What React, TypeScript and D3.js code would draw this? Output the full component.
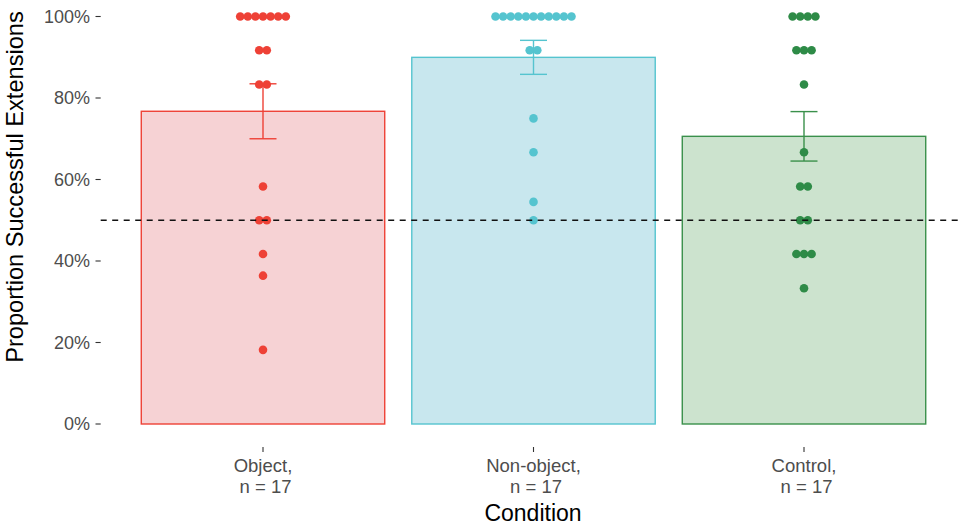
import React from "react";
import * as d3 from "d3";

// Conditions shown along the x axis
const conditions = ["Object", "Non-object", "Control"];
const sampleSizes = [17, 17, 17];

// Per-participant proportion of successful extensions, one array per condition
const objectScores = [1, 1, 1, 1, 1, 1, 1, 0.917, 0.917, 0.833, 0.833, 0.583, 0.5, 0.5, 0.417, 0.364, 0.182];
const nonObjectScores = [1, 1, 1, 1, 1, 1, 1, 1, 1, 1, 1, 0.917, 0.917, 0.75, 0.667, 0.545, 0.5];
const controlScores = [1, 1, 1, 1, 0.917, 0.917, 0.917, 0.833, 0.667, 0.583, 0.583, 0.5, 0.5, 0.417, 0.417, 0.417, 0.333];

const yTicks = [0, 0.2, 0.4, 0.6, 0.8, 1];
const chanceLevel = 0.5;

const pointColors = ["#EE4136", "#55C4CF", "#2E8B47"];
const barFills = ["#F6D2D4", "#C8E7EE", "#CCE3CE"];
const barStrokes = ["#EE4136", "#55C4CF", "#3A904B"];

const W = 960;
const H = 526;
const panelLeft = 100.7;
const panelRight = 966.3;
const panelBottom = 447;

const FONT = "'Liberation Sans', Arial, Helvetica, sans-serif";

export default function App() {
  const groups = [objectScores, nonObjectScores, controlScores];

  const x = d3
    .scaleBand<string>()
    .domain(conditions)
    .range([panelLeft, panelRight])
    .paddingInner(0.1)
    .paddingOuter(0.15);

  const y = d3.scaleLinear().domain([0, 1]).range([424, 16.5]);

  const stats = groups.map((vals) => {
    const m = d3.mean(vals) as number;
    const sd = d3.deviation(vals) as number;
    const se = sd / Math.sqrt(vals.length);
    return { mean: m, lo: m - se, hi: m + se };
  });

  const dotR = 4.3;
  const dotStep = 7.6;
  const whiskerHalf = 13.5;

  return (
    <svg
      width={W}
      height={H}
      style={{ position: "absolute", left: 0, top: 0, background: "#fff" }}
      fontFamily={FONT}
    >
      {/* bars */}
      {conditions.map((c, i) => (
        <rect
          key={`bar-${c}`}
          x={x(c)!}
          y={y(stats[i].mean)}
          width={x.bandwidth()}
          height={y(0) - y(stats[i].mean)}
          fill={barFills[i]}
          stroke={barStrokes[i]}
          strokeWidth={1.4}
        />
      ))}

      {/* standard-error bars */}
      {conditions.map((c, i) => {
        const cx = x(c)! + x.bandwidth() / 2;
        const s = stats[i];
        return (
          <g key={`err-${c}`} stroke={barStrokes[i]} strokeWidth={1.4}>
            <line x1={cx} x2={cx} y1={y(s.hi)} y2={y(s.lo)} />
            <line x1={cx - whiskerHalf} x2={cx + whiskerHalf} y1={y(s.hi)} y2={y(s.hi)} />
            <line x1={cx - whiskerHalf} x2={cx + whiskerHalf} y1={y(s.lo)} y2={y(s.lo)} />
          </g>
        );
      })}

      {/* centred dot stacks */}
      {conditions.map((c, i) => {
        const cx = x(c)! + x.bandwidth() / 2;
        const bins = d3.groups(groups[i], (v) => v);
        return (
          <g key={`dots-${c}`} fill={pointColors[i]}>
            {bins.flatMap(([v, arr]) =>
              arr.map((_, k) => (
                <circle
                  key={`${v}-${k}`}
                  cx={cx + (k - (arr.length - 1) / 2) * dotStep}
                  cy={y(v)}
                  r={dotR}
                />
              ))
            )}
          </g>
        );
      })}

      {/* chance line */}
      <line
        x1={panelLeft}
        x2={W}
        y1={y(chanceLevel)}
        y2={y(chanceLevel)}
        stroke="#111"
        strokeWidth={1.4}
        strokeDasharray="6 5.5"
      />

      {/* y axis ticks and labels */}
      {yTicks.map((t) => (
        <g key={`yt-${t}`}>
          <line x1={95.5} x2={panelLeft} y1={y(t)} y2={y(t)} stroke="#333" strokeWidth={1.1} />
          <text
            x={90}
            y={y(t)}
            dy="0.35em"
            textAnchor="end"
            fontSize={18}
            fill="#4D4D4D"
          >
            {d3.format(".0%")(t)}
          </text>
        </g>
      ))}

      {/* x axis ticks and labels */}
      {conditions.map((c, i) => {
        const cx = x(c)! + x.bandwidth() / 2;
        return (
          <g key={`xt-${c}`}>
            <line x1={cx} x2={cx} y1={panelBottom} y2={panelBottom + 5} stroke="#333" strokeWidth={1.1} />
            <text x={cx} y={472} textAnchor="middle" fontSize={18.5} fill="#4D4D4D">
              {`${c},`}
            </text>
            <text
              x={cx}
              y={493}
              textAnchor="middle"
              fontSize={18.5}
              fill="#4D4D4D"
              style={{ whiteSpace: "pre" }}
            >
              {` n = ${sampleSizes[i]}`}
            </text>
          </g>
        );
      })}

      {/* axis titles */}
      <text x={533} y={521} textAnchor="middle" fontSize={23} fill="#000">
        Condition
      </text>
      <text
        transform={`translate(23, 187) rotate(-90)`}
        textAnchor="middle"
        fontSize={23.6}
        fill="#000"
      >
        Proportion Successful Extensions
      </text>
    </svg>
  );
}
